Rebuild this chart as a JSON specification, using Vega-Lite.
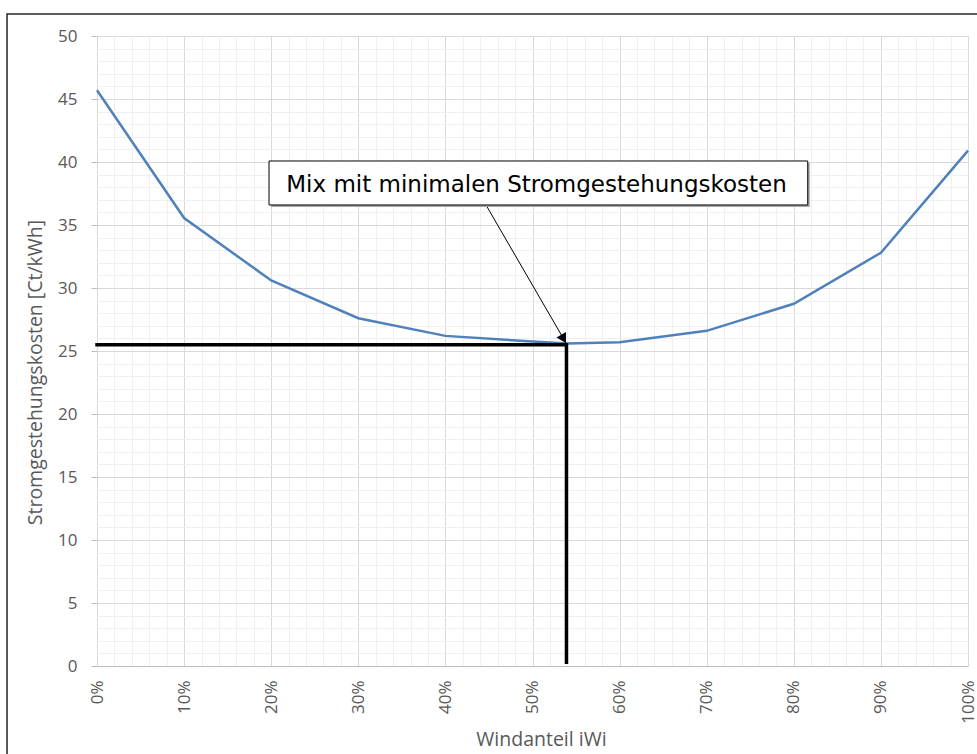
{
  "$schema": "https://vega.github.io/schema/vega-lite/v6.json",
  "width": 871,
  "height": 630,
  "autosize": {"type": "none"},
  "padding": {"left": 97, "top": 36, "right": 9, "bottom": 88},
  "background": "white",
  "datasets": {
    "curve": [
      {"anteil": 0, "kosten": 45.7},
      {"anteil": 10, "kosten": 35.55},
      {"anteil": 20, "kosten": 30.6},
      {"anteil": 30, "kosten": 27.6},
      {"anteil": 40, "kosten": 26.2},
      {"anteil": 50, "kosten": 25.75},
      {"anteil": 54, "kosten": 25.6},
      {"anteil": 60, "kosten": 25.7},
      {"anteil": 70, "kosten": 26.6},
      {"anteil": 80, "kosten": 28.75},
      {"anteil": 90, "kosten": 32.8},
      {"anteil": 100, "kosten": 40.9}
    ],
    "minimum": [
      {"i": 1, "anteil": 0, "kosten": 25.5},
      {"i": 2, "anteil": 53.9, "kosten": 25.5},
      {"i": 3, "anteil": 53.9, "kosten": 0.3}
    ],
    "annotation": [
      {"label": "Mix mit minimalen Stromgestehungskosten", "bx1": 19.75, "bx2": 81.6, "by1": 40.08, "by2": 36.59, "tx": 50.46, "ty": 37.64, "ax": 44.66, "ay": 36.59, "px": 53.85, "py": 25.63, "hx": 53.57, "hy": 25.96}
    ],
    "frame": [{"fx1": -10.33, "fx2": 130, "fy1": 51.75, "fy2": -20}]
  },
  "config": {
    "view": {"stroke": null},
    "font": "Open Sans",
    "axis": {
      "labelFont": "Open Sans",
      "titleFont": "Open Sans",
      "labelColor": "#595959",
      "titleColor": "#595959",
      "labelFontSize": 17,
      "titleFontSize": 19.5,
      "titleFontWeight": "normal",
      "ticks": false,
      "labelOverlap": false,
      "tickCount": 60
    }
  },
  "layer": [
    {
      "data": {"name": "curve"},
      "mark": {"type": "line", "color": "#4f81bd", "strokeWidth": 2.5},
      "encoding": {
        "x": {
          "field": "anteil", "type": "quantitative",
          "scale": {"domain": [0, 100], "nice": false},
          "title": "Windanteil iWi",
          "axis": {
            "values": [0,2,4,6,8,10,12,14,16,18,20,22,24,26,28,30,32,34,36,38,40,42,44,46,48,50,52,54,56,58,60,62,64,66,68,70,72,74,76,78,80,82,84,86,88,90,92,94,96,98,100],
            "tickCount": 60,
            "labelExpr": "datum.value % 10 === 0 ? datum.value + '%' : ''",
            "labelAngle": -90,
            "labelPadding": 14,
            "titlePadding": 7,
            "titleX": 444,
            "domainColor": "#bfbfbf",
            "domainWidth": 1.2,
            "gridColor": {"condition": {"test": "datum.value % 10 === 0", "value": "#d9d9d9"}, "value": "#f0f0f0"},
            "gridWidth": 1
          }
        },
        "y": {
          "field": "kosten", "type": "quantitative",
          "scale": {"domain": [0, 50], "nice": false},
          "title": "Stromgestehungskosten [Ct/kWh]",
          "axis": {
            "values": [0,1,2,3,4,5,6,7,8,9,10,11,12,13,14,15,16,17,18,19,20,21,22,23,24,25,26,27,28,29,30,31,32,33,34,35,36,37,38,39,40,41,42,43,44,45,46,47,48,49,50],
            "tickCount": 60,
            "labelExpr": "datum.value % 5 === 0 ? datum.label : ''",
            "ticks": true,
            "tickSize": 6,
            "tickColor": {"condition": {"test": "datum.value % 5 === 0", "value": "#bfbfbf"}, "value": "rgba(0,0,0,0)"},
            "labelPadding": 14,
            "titlePadding": 12,
            "titleY": 336,
            "domain": false,
            "gridColor": {"condition": {"test": "datum.value % 5 === 0", "value": "#d9d9d9"}, "value": "#f0f0f0"},
            "gridWidth": 1
          }
        }
      }
    },
    {
      "data": {"name": "minimum"},
      "mark": {"type": "line", "color": "black", "strokeWidth": 3.5, "strokeCap": "square"},
      "encoding": {
        "x": {"field": "anteil", "type": "quantitative"},
        "y": {"field": "kosten", "type": "quantitative"},
        "order": {"field": "i"}
      }
    },
    {
      "data": {"name": "annotation"},
      "mark": {"type": "rule", "color": "black", "strokeWidth": 1},
      "encoding": {
        "x": {"field": "ax", "type": "quantitative"},
        "y": {"field": "ay", "type": "quantitative"},
        "x2": {"field": "px"},
        "y2": {"field": "py"}
      }
    },
    {
      "data": {"name": "annotation"},
      "mark": {"type": "point", "shape": "triangle-up", "filled": true, "color": "black", "size": 120, "angle": 150, "opacity": 1},
      "encoding": {
        "x": {"field": "hx", "type": "quantitative"},
        "y": {"field": "hy", "type": "quantitative"}
      }
    },
    {
      "data": {"name": "annotation"},
      "mark": {"type": "rect", "fill": "#a6a6a6", "xOffset": 2, "yOffset": 2, "x2Offset": 2, "y2Offset": 2},
      "encoding": {
        "x": {"field": "bx1", "type": "quantitative"},
        "x2": {"field": "bx2"},
        "y": {"field": "by1", "type": "quantitative"},
        "y2": {"field": "by2"}
      }
    },
    {
      "data": {"name": "annotation"},
      "mark": {"type": "rect", "fill": "white", "stroke": "black", "strokeWidth": 1},
      "encoding": {
        "x": {"field": "bx1", "type": "quantitative"},
        "x2": {"field": "bx2"},
        "y": {"field": "by1", "type": "quantitative"},
        "y2": {"field": "by2"}
      }
    },
    {
      "data": {"name": "annotation"},
      "mark": {"type": "text", "font": "DejaVu Sans", "fontSize": 23, "color": "black", "align": "center", "baseline": "alphabetic"},
      "encoding": {
        "x": {"field": "tx", "type": "quantitative"},
        "y": {"field": "ty", "type": "quantitative"},
        "text": {"field": "label"}
      }
    },
    {
      "data": {"name": "frame"},
      "mark": {"type": "rect", "fill": null, "fillOpacity": 0, "stroke": "#262626", "strokeWidth": 1.5},
      "encoding": {
        "x": {"field": "fx1", "type": "quantitative"},
        "x2": {"field": "fx2"},
        "y": {"field": "fy1", "type": "quantitative"},
        "y2": {"field": "fy2"}
      }
    }
  ]
}
